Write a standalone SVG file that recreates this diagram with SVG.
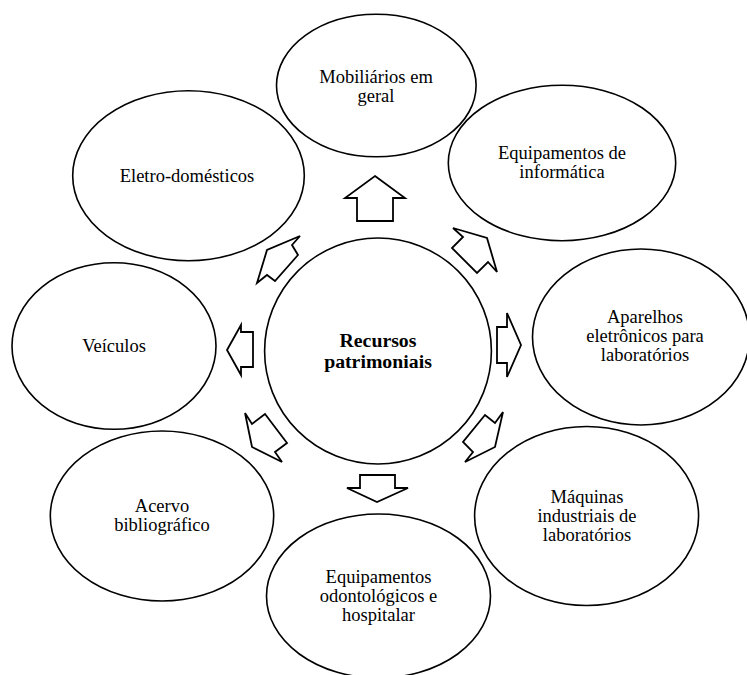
<svg xmlns="http://www.w3.org/2000/svg" width="747" height="675" viewBox="0 0 747 675">
  <style>
    .node ellipse { fill: #ffffff; stroke: #000000; stroke-width: 1.6; }
    .node text { font-size: 18.5px; fill: #000000; text-anchor: middle; }
    #center text { font-weight: bold; font-size: 19.8px; }
    .arrow { fill: #ffffff; stroke: #000000; stroke-width: 1.8; stroke-linejoin: miter; }
  </style>
  <rect x="0" y="0" width="747" height="675" fill="#ffffff"/>

  <!-- block arrows from the centre outwards -->
  <g id="connectors">
    <polygon class="arrow" points="375,176 405,198 393,198 393,221 357,221 357,198 345,198"/>
    <polygon class="arrow" points="453,228 463,237 452,248 477,273 488,262 497,272 487,238"/>
    <polygon class="arrow" points="497,327 507,327 507,313 521,345 507,377 507,363 497,363"/>
    <polygon class="arrow" points="503,412 495,423 485,415 463,442 473,452 465,462 495,447"/>
    <polygon class="arrow" points="360,475 395,475 395,488 408,488 377,502 347,488 360,488"/>
    <polygon class="arrow" points="245,413 252,424 265,414 287,443 275,452 282,462 252,447"/>
    <polygon class="arrow" points="227,350 241,325 241,332 253,332 253,367 241,367 241,375"/>
    <polygon class="arrow" points="300,236 292,245 298,255 275,281 267,275 257,283 267,250"/>
  </g>

  <g font-family="Liberation Serif, Times New Roman, DejaVu Serif, serif">
    <g id="center" class="node">
      <ellipse cx="378" cy="351" rx="113.4" ry="113"/>
      <text x="378" y="347">Recursos</text>
      <text x="378" y="368">patrimoniais</text>
    </g>

    <g id="mobiliarios" class="node">
      <ellipse cx="376.3" cy="85.5" rx="99.8" ry="71.3"/>
      <text x="376" y="83">Mobiliários em</text>
      <text x="376" y="102">geral</text>
    </g>

    <g id="informatica" class="node">
      <ellipse cx="562" cy="163" rx="113.7" ry="77.8"/>
      <text x="562" y="159">Equipamentos de</text>
      <text x="562" y="178">informática</text>
    </g>

    <g id="aparelhos" class="node">
      <ellipse cx="641" cy="337" rx="108.5" ry="88"/>
      <text x="645" y="323">Aparelhos</text>
      <text x="645" y="342">eletrônicos para</text>
      <text x="645" y="361">laboratórios</text>
    </g>

    <g id="maquinas" class="node">
      <ellipse cx="586.6" cy="516" rx="112" ry="89.5"/>
      <text x="587" y="503">Máquinas</text>
      <text x="587" y="522">industriais de</text>
      <text x="587" y="541">laboratórios</text>
    </g>

    <g id="odontologicos" class="node">
      <ellipse cx="378.5" cy="596" rx="112" ry="82"/>
      <text x="378.5" y="583">Equipamentos</text>
      <text x="378.5" y="602">odontológicos e</text>
      <text x="378.5" y="621">hospitalar</text>
    </g>

    <g id="acervo" class="node">
      <ellipse cx="162" cy="516" rx="111.7" ry="85"/>
      <text x="162" y="512">Acervo</text>
      <text x="162" y="531">bibliográfico</text>
    </g>

    <g id="veiculos" class="node">
      <ellipse cx="114" cy="346" rx="102" ry="83.3"/>
      <text x="114" y="352">Veículos</text>
    </g>

    <g id="eletrodomesticos" class="node">
      <ellipse cx="188.5" cy="175.7" rx="115.8" ry="85"/>
      <text x="187" y="182">Eletro-domésticos</text>
    </g>
  </g>
</svg>
